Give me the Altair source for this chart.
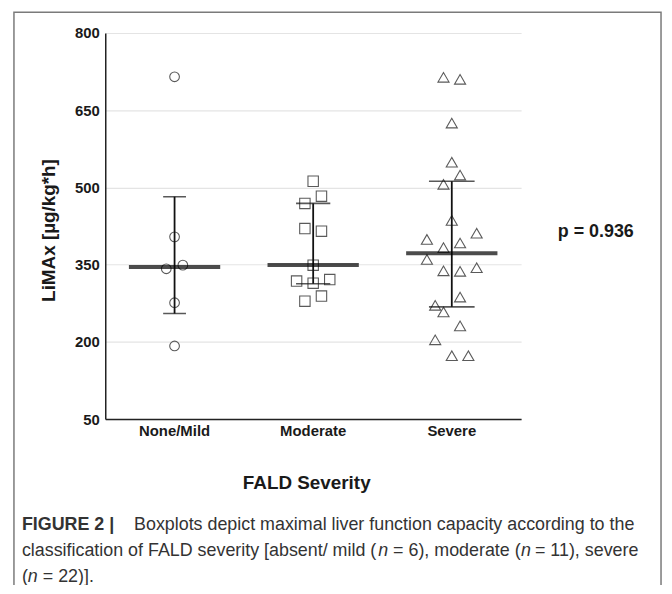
import altair as alt
import pandas as pd

# ---- data ----
categories = ["None/Mild", "Moderate", "Severe"]

none_vals = [715, 404, 342, 349, 276, 192]
none_jit = [0, 0, -1, 1, 0, 0]

mod_vals = [512, 483, 469, 420, 415, 349, 318, 314, 321, 279, 289]
mod_jit = [0, 1, -1, -1, 1, 0, -2, 0, 2, -1, 1]

sev_vals = [714, 710, 625, 549, 524, 506, 436, 411, 399, 383, 392,
            360, 338, 337, 344, 287, 271, 258, 231, 204, 173, 173]
sev_jit = [-1, 1, 0, 0, 1, -1, 0, 3, -3, -1, 1,
           -3, -1, 1, 3, 1, -2, -1, 1, -2, 0, 2]

medians = [345.5, 349.4, 372]
q1 = [255, 313, 268]
q3 = [482, 469, 512]

y_ticks = [50, 200, 350, 500, 650, 800]
p_text = "p = 0.936"

# ---- tables ----
rows = []
for cat, vals, jit in [(categories[0], none_vals, none_jit),
                       (categories[1], mod_vals, mod_jit),
                       (categories[2], sev_vals, sev_jit)]:
    for v, j in zip(vals, jit):
        rows.append({"cat": cat, "val": v, "jit": j})
pts = pd.DataFrame(rows)
stats = pd.DataFrame({"cat": categories, "med": medians, "q1": q1, "q3": q3})

FONT = "Liberation Sans"
W, H = 419, 389
BAND = W / 3.0

xenc = alt.X("cat:N", sort=categories,
             scale=alt.Scale(domain=categories, paddingInner=0, paddingOuter=0),
             axis=alt.Axis(title=None, labelAngle=0, labelFont=FONT, labelFontSize=15,
                           labelFontWeight="bold", labelColor="#1a1a1a", ticks=False,
                           tickSize=0, labelPadding=5, domainColor="#222222",
                           domainWidth=1.5, grid=False))
yscale = alt.Scale(domain=[50, 800], nice=False, zero=False)
yaxis = alt.Axis(title=None, values=y_ticks, labelFont=FONT, labelFontSize=15,
                 labelFontWeight="bold", labelColor="#1a1a1a", ticks=False, tickSize=0,
                 labelPadding=6, domainColor="#222222", domainWidth=1.5,
                 grid=True, gridColor="#e4e4e4", gridWidth=1.2)

step = 8.35
points = alt.Chart(pts).mark_point(filled=False, strokeWidth=1.1, color="#5a5a5a", opacity=1).encode(
    x=xenc,
    xOffset=alt.XOffset("jit:Q", scale=alt.Scale(domain=[-3, 3],
                                                range=[BAND / 2 - 3 * step, BAND / 2 + 3 * step])),
    y=alt.Y("val:Q", scale=yscale, axis=yaxis),
    shape=alt.Shape("cat:N", scale=alt.Scale(domain=categories,
                                             range=["circle", "square", "triangle-up"]),
                    legend=None),
    size=alt.Size("cat:N", scale=alt.Scale(domain=categories, range=[95, 125, 130]),
                  legend=None),
)

base = alt.Chart(stats)
whisk = base.mark_rule(color="#111111", strokeWidth=1.8).encode(
    x=alt.X("cat:N", sort=categories), y=alt.Y("q1:Q", scale=yscale), y2="q3:Q")
capsize = alt.Size("cat:N", scale=alt.Scale(domain=categories, range=[23, 46, 46]), legend=None)
cap_lo = base.mark_tick(color="#111111", thickness=1.6).encode(
    x=alt.X("cat:N", sort=categories), y=alt.Y("q1:Q", scale=yscale), size=capsize)
cap_hi = base.mark_tick(color="#111111", thickness=1.6).encode(
    x=alt.X("cat:N", sort=categories), y=alt.Y("q3:Q", scale=yscale), size=capsize)
caps = alt.layer(cap_lo, cap_hi)
med = base.mark_tick(color="#000000", thickness=4, size=92).encode(
    x=alt.X("cat:N", sort=categories), y=alt.Y("med:Q", scale=yscale))

one = alt.Data(values=[{}])

def txt(text, x, y, size, weight="normal", angle=0, align="left", color="#1a1a1a", style="normal"):
    return alt.Chart(one).mark_text(text=text, font=FONT, fontSize=size, fontWeight=weight,
                                    angle=angle, align=align, baseline="middle", color=color,
                                    fontStyle=style).encode(
        x=alt.value(x), y=alt.value(y))

# page-to-plot offsets: plot origin at page (106, 31)
OX, OY = 106, 31
border = alt.Chart(one).mark_rect(fill="white", fillOpacity=0, stroke="#7a7a7a", strokeWidth=1.5).encode(
    x=alt.value(14 - OX), x2=alt.value(666 - OX), y=alt.value(10 - OY), y2=alt.value(640 - OY))

ytitle = txt("LiMAx [µg/kg*h]", 49 - OX, 230 - OY, 19, "bold", angle=270, align="center")
xtitle = txt("FALD Severity", 309 - OX, 484 - OY, 19, "bold", align="center")
ptxt = txt(p_text, 562 - OX, 232 - OY, 18, "bold")

cap_col = "#333333"
L1, L2, L3 = 527 - OY, 553 - OY, 579 - OY
caption = [
    txt("FIGURE 2 |", 22 - OX, L1, 18, "bold", color=cap_col),
    txt("Boxplots depict maximal liver function capacity according to the", 135 - OX, L1, 18, color=cap_col),
    txt("classification of FALD severity [absent/ mild (", 22 - OX, L2, 18, color=cap_col),
    txt("n", 381 - OX, L2, 18, color=cap_col, style="italic"),
    txt("= 6), moderate (", 396 - OX, L2, 18, color=cap_col),
    txt("n", 525 - OX, L2, 18, color=cap_col, style="italic"),
    txt("= 11), severe", 539 - OX, L2, 18, color=cap_col),
    txt("(", 22 - OX, L3, 18, color=cap_col),
    txt("n", 28 - OX, L3, 18, color=cap_col, style="italic"),
    txt("= 22)].", 43 - OX, L3, 18, color=cap_col),
]

pointlayer = alt.layer(points, caps).resolve_scale(size="independent")

chart = alt.layer(border, pointlayer, whisk, med, ytitle, xtitle, ptxt, *caption).properties(
    width=W, height=H,
    padding={"left": 98, "top": 23, "right": 144, "bottom": 165},
    autosize=alt.AutoSizeParams(type="none"),
    background="white",
).configure_view(stroke=None, strokeWidth=0)

chart.save("out.html", embed_options={"renderer": "svg", "actions": False})
